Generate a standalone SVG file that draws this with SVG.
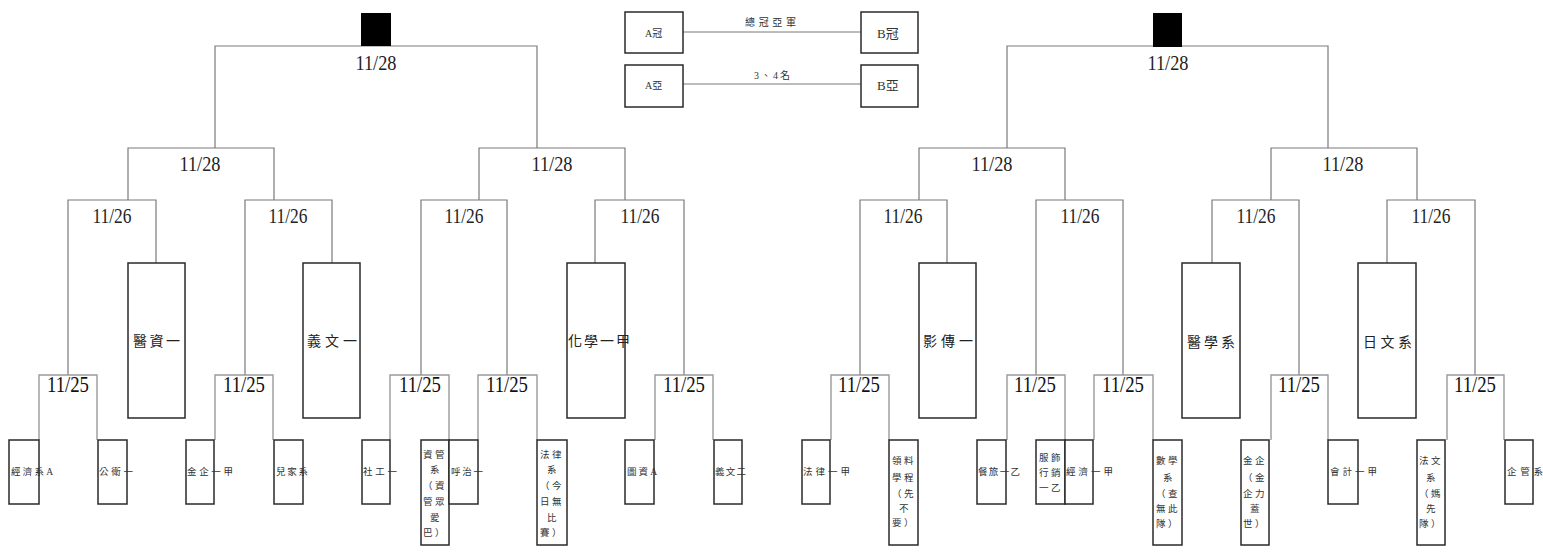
<svg xmlns="http://www.w3.org/2000/svg" width="1543" height="555" viewBox="0 0 1543 555">
<style>
.bg{fill:#ffffff}
.ln{fill:none;stroke:#7a7a7a;stroke-width:1.2}
.ln4{fill:none;stroke:#9a9a9a;stroke-width:1.4}
.box{fill:#ffffff;stroke:#2a2a2a;stroke-width:1.5}
.sq{fill:#000000}
.date{font-family:"Liberation Serif","Noto Sans CJK TC",serif;font-size:21px;fill:#222;text-anchor:middle}
.date4{font-family:"Liberation Serif","Noto Sans CJK TC",serif;font-size:23px;fill:#111;text-anchor:middle}
.big{font-family:"Liberation Serif","Noto Sans CJK TC",serif;font-size:14px;fill:#222}
.sm{font-family:"Liberation Serif","Noto Sans CJK TC",serif;font-size:9.5px;fill:#333}
.ml{font-family:"Liberation Serif","Noto Sans CJK TC",serif;font-size:9.5px;fill:#333;text-anchor:middle;letter-spacing:2.5px}
.lg{font-family:"Liberation Serif","Noto Sans CJK TC",serif;font-size:10px;fill:#333}
</style>
<rect class="bg" x="0" y="0" width="1543" height="555"/>

<g id="connectors">
  <path class="ln" d="M215,148 V46 H537 V148"/>
  <path class="ln" d="M1007,148 V46 H1328 V148"/>
  <path class="ln" d="M128,200 V148 H274 V200"/>
  <path class="ln" d="M479,200 V148 H625 V200"/>
  <path class="ln" d="M919,200 V148 H1065 V200"/>
  <path class="ln" d="M1271,200 V148 H1417 V200"/>
  <path class="ln" d="M68,375 V200 H156 V263"/>
  <path class="ln" d="M245,375 V200 H332 V263"/>
  <path class="ln" d="M421,375 V200 H507 V375"/>
  <path class="ln" d="M595,263 V200 H684 V375"/>
  <path class="ln" d="M860,375 V200 H947 V263"/>
  <path class="ln" d="M1036,375 V200 H1123 V375"/>
  <path class="ln" d="M1212,263 V200 H1299 V375"/>
  <path class="ln" d="M1387,263 V200 H1475 V375"/>
  <path class="ln4" d="M39,440 V375 H97 V440"/>
  <path class="ln4" d="M215,440 V375 H273 V440"/>
  <path class="ln4" d="M390,440 V375 H449 V440"/>
  <path class="ln4" d="M478,440 V375 H537 V440"/>
  <path class="ln4" d="M655,440 V375 H713 V440"/>
  <path class="ln4" d="M831,440 V375 H889 V440"/>
  <path class="ln4" d="M1007,440 V375 H1065 V440"/>
  <path class="ln4" d="M1094,440 V375 H1153 V440"/>
  <path class="ln4" d="M1271,440 V375 H1328 V440"/>
  <path class="ln4" d="M1447,440 V375 H1504 V440"/>
  <path class="ln" d="M683,32 H861"/>
  <path class="ln" d="M683,84 H861"/>
</g>

<g id="labels">
  <text class="date" x="376" y="70" textLength="41" lengthAdjust="spacingAndGlyphs">11/28</text>
  <text class="date" x="1168" y="70" textLength="41" lengthAdjust="spacingAndGlyphs">11/28</text>
  <text class="date" x="200" y="171" textLength="41" lengthAdjust="spacingAndGlyphs">11/28</text>
  <text class="date" x="552" y="171" textLength="41" lengthAdjust="spacingAndGlyphs">11/28</text>
  <text class="date" x="992" y="171" textLength="41" lengthAdjust="spacingAndGlyphs">11/28</text>
  <text class="date" x="1343" y="171" textLength="41" lengthAdjust="spacingAndGlyphs">11/28</text>
  <text class="date" x="112" y="223" textLength="39" lengthAdjust="spacingAndGlyphs">11/26</text>
  <text class="date" x="288" y="223" textLength="39" lengthAdjust="spacingAndGlyphs">11/26</text>
  <text class="date" x="464" y="223" textLength="39" lengthAdjust="spacingAndGlyphs">11/26</text>
  <text class="date" x="640" y="223" textLength="39" lengthAdjust="spacingAndGlyphs">11/26</text>
  <text class="date" x="903" y="223" textLength="39" lengthAdjust="spacingAndGlyphs">11/26</text>
  <text class="date" x="1080" y="223" textLength="39" lengthAdjust="spacingAndGlyphs">11/26</text>
  <text class="date" x="1256" y="223" textLength="39" lengthAdjust="spacingAndGlyphs">11/26</text>
  <text class="date" x="1431" y="223" textLength="39" lengthAdjust="spacingAndGlyphs">11/26</text>
  <text class="date4" x="68" y="392" textLength="42" lengthAdjust="spacingAndGlyphs">11/25</text>
  <text class="date4" x="244" y="392" textLength="42" lengthAdjust="spacingAndGlyphs">11/25</text>
  <text class="date4" x="420" y="392" textLength="42" lengthAdjust="spacingAndGlyphs">11/25</text>
  <text class="date4" x="507" y="392" textLength="42" lengthAdjust="spacingAndGlyphs">11/25</text>
  <text class="date4" x="684" y="392" textLength="42" lengthAdjust="spacingAndGlyphs">11/25</text>
  <text class="date4" x="859" y="392" textLength="42" lengthAdjust="spacingAndGlyphs">11/25</text>
  <text class="date4" x="1035" y="392" textLength="42" lengthAdjust="spacingAndGlyphs">11/25</text>
  <text class="date4" x="1123" y="392" textLength="42" lengthAdjust="spacingAndGlyphs">11/25</text>
  <text class="date4" x="1299" y="392" textLength="42" lengthAdjust="spacingAndGlyphs">11/25</text>
  <text class="date4" x="1475" y="392" textLength="42" lengthAdjust="spacingAndGlyphs">11/25</text>
  <text class="lg" x="745" y="26" textLength="51" lengthAdjust="spacing">總冠亞軍</text>
  <text class="lg" x="754" y="79" textLength="36" lengthAdjust="spacing">3、4名</text>
</g>

<g id="champ-left"><rect class="sq" x="361" y="13" width="30" height="33"/></g>
<g id="champ-right"><rect class="sq" x="1153" y="13" width="29" height="34"/></g>

<g id="legend-a-champ"><rect class="box" x="625" y="12" width="58" height="41"/><text class="lg" x="645" y="37">A冠</text></g>
<g id="legend-b-champ"><rect class="box" x="861" y="12" width="57" height="41"/><text class="lg" x="877" y="38" style="font-size:13px">B冠</text></g>
<g id="legend-a-runner"><rect class="box" x="625" y="65" width="58" height="42"/><text class="lg" x="645" y="89">A亞</text></g>
<g id="legend-b-runner"><rect class="box" x="861" y="65" width="57" height="42"/><text class="lg" x="877" y="90" style="font-size:13px">B亞</text></g>

<g id="team-yizi1"><rect class="box" x="128" y="263" width="57" height="155"/><text class="big" x="133" y="346" textLength="47" lengthAdjust="spacing">醫資一</text></g>
<g id="team-yiwen1"><rect class="box" x="303" y="263" width="57" height="155"/><text class="big" x="307" y="346" textLength="50" lengthAdjust="spacing">義文一</text></g>
<g id="team-chem1a"><rect class="box" x="567" y="263" width="58" height="155"/><text class="big" x="568" y="346" textLength="62" lengthAdjust="spacing">化學一甲</text></g>
<g id="team-yingchuan1"><rect class="box" x="919" y="263" width="57" height="155"/><text class="big" x="923" y="346" textLength="50" lengthAdjust="spacing">影傳一</text></g>
<g id="team-medicine"><rect class="box" x="1182" y="263" width="58" height="155"/><text class="big" x="1187" y="347" textLength="48" lengthAdjust="spacing">醫學系</text></g>
<g id="team-japanese"><rect class="box" x="1358" y="263" width="58" height="155"/><text class="big" x="1363" y="347" textLength="49" lengthAdjust="spacing">日文系</text></g>

<g id="team-econ-a"><rect class="box" x="9" y="440" width="30" height="64"/><text class="sm" x="11" y="475" textLength="42" lengthAdjust="spacing">經濟系A</text></g>
<g id="team-pubhealth1"><rect class="box" x="98" y="440" width="29" height="64"/><text class="sm" x="99" y="475" textLength="34" lengthAdjust="spacing">公衛一</text></g>
<g id="team-jinqi1a"><rect class="box" x="186" y="440" width="28" height="64"/><text class="sm" x="187" y="475" textLength="46" lengthAdjust="spacing">金企一甲</text></g>
<g id="team-erjia"><rect class="box" x="274" y="440" width="29" height="64"/><text class="sm" x="276" y="475" textLength="32" lengthAdjust="spacing">兒家系</text></g>
<g id="team-social1"><rect class="box" x="362" y="440" width="28" height="64"/><text class="sm" x="363" y="475" textLength="34" lengthAdjust="spacing">社工一</text></g>
<g id="team-im"><rect class="box" x="421" y="440" width="28" height="105"/>
  <text class="ml" x="435" y="458">資管</text><text class="ml" x="436" y="473">系</text><text class="ml" x="435" y="489">（資</text><text class="ml" x="435" y="505">管眾</text><text class="ml" x="436" y="521">愛</text><text class="ml" x="435" y="536">巴）</text></g>
<g id="team-resp1"><rect class="box" x="449" y="440" width="29" height="64"/><text class="sm" x="451" y="475" textLength="32" lengthAdjust="spacing">呼治一</text></g>
<g id="team-law"><rect class="box" x="537" y="440" width="30" height="105"/>
  <text class="ml" x="552" y="458">法律</text><text class="ml" x="553" y="473">系</text><text class="ml" x="552" y="489">（今</text><text class="ml" x="552" y="505">日無</text><text class="ml" x="553" y="521">比</text><text class="ml" x="552" y="536">賽）</text></g>
<g id="team-lib-a"><rect class="box" x="625" y="440" width="29" height="64"/><text class="sm" x="627" y="475" textLength="30" lengthAdjust="spacing">圖資A</text></g>
<g id="team-yiwen2"><rect class="box" x="714" y="440" width="28" height="64"/><text class="sm" x="715" y="475" textLength="31" lengthAdjust="spacing">義文二</text></g>
<g id="team-law1a"><rect class="box" x="802" y="440" width="28" height="64"/><text class="sm" x="803" y="475" textLength="47" lengthAdjust="spacing">法律一甲</text></g>
<g id="team-program"><rect class="box" x="889" y="440" width="29" height="105"/>
  <text class="ml" x="904" y="464">領料</text><text class="ml" x="904" y="481">學程</text><text class="ml" x="904" y="497">（先</text><text class="ml" x="905" y="512">不</text><text class="ml" x="904" y="526">要）</text></g>
<g id="team-hosp1b"><rect class="box" x="977" y="440" width="29" height="64"/><text class="sm" x="978" y="475" textLength="42" lengthAdjust="spacing">餐旅一乙</text></g>
<g id="team-fashion1b"><rect class="box" x="1036" y="440" width="29" height="64"/>
  <text class="ml" x="1051" y="461">服飾</text><text class="ml" x="1051" y="476">行銷</text><text class="ml" x="1051" y="491">一乙</text></g>
<g id="team-econ1a"><rect class="box" x="1065" y="440" width="28" height="64"/><text class="sm" x="1066" y="475" textLength="47" lengthAdjust="spacing">經濟一甲</text></g>
<g id="team-math"><rect class="box" x="1153" y="440" width="29" height="105"/>
  <text class="ml" x="1168" y="464">數學</text><text class="ml" x="1169" y="481">系</text><text class="ml" x="1168" y="497">（查</text><text class="ml" x="1168" y="512">無此</text><text class="ml" x="1168" y="527">隊）</text></g>
<g id="team-jinqi"><rect class="box" x="1241" y="440" width="28" height="105"/>
  <text class="ml" x="1255" y="464">金企</text><text class="ml" x="1255" y="481">（金</text><text class="ml" x="1255" y="497">企力</text><text class="ml" x="1256" y="512">蓋</text><text class="ml" x="1255" y="527">世）</text></g>
<g id="team-acct1a"><rect class="box" x="1328" y="440" width="30" height="64"/><text class="sm" x="1330" y="475" textLength="47" lengthAdjust="spacing">會計一甲</text></g>
<g id="team-french"><rect class="box" x="1417" y="440" width="28" height="105"/>
  <text class="ml" x="1431" y="464">法文</text><text class="ml" x="1432" y="481">系</text><text class="ml" x="1431" y="497">（媽</text><text class="ml" x="1432" y="512">先</text><text class="ml" x="1431" y="527">隊）</text></g>
<g id="team-bizadmin"><rect class="box" x="1505" y="440" width="28" height="64"/><text class="sm" x="1507" y="475" textLength="36" lengthAdjust="spacing">企管系</text></g>
</svg>
